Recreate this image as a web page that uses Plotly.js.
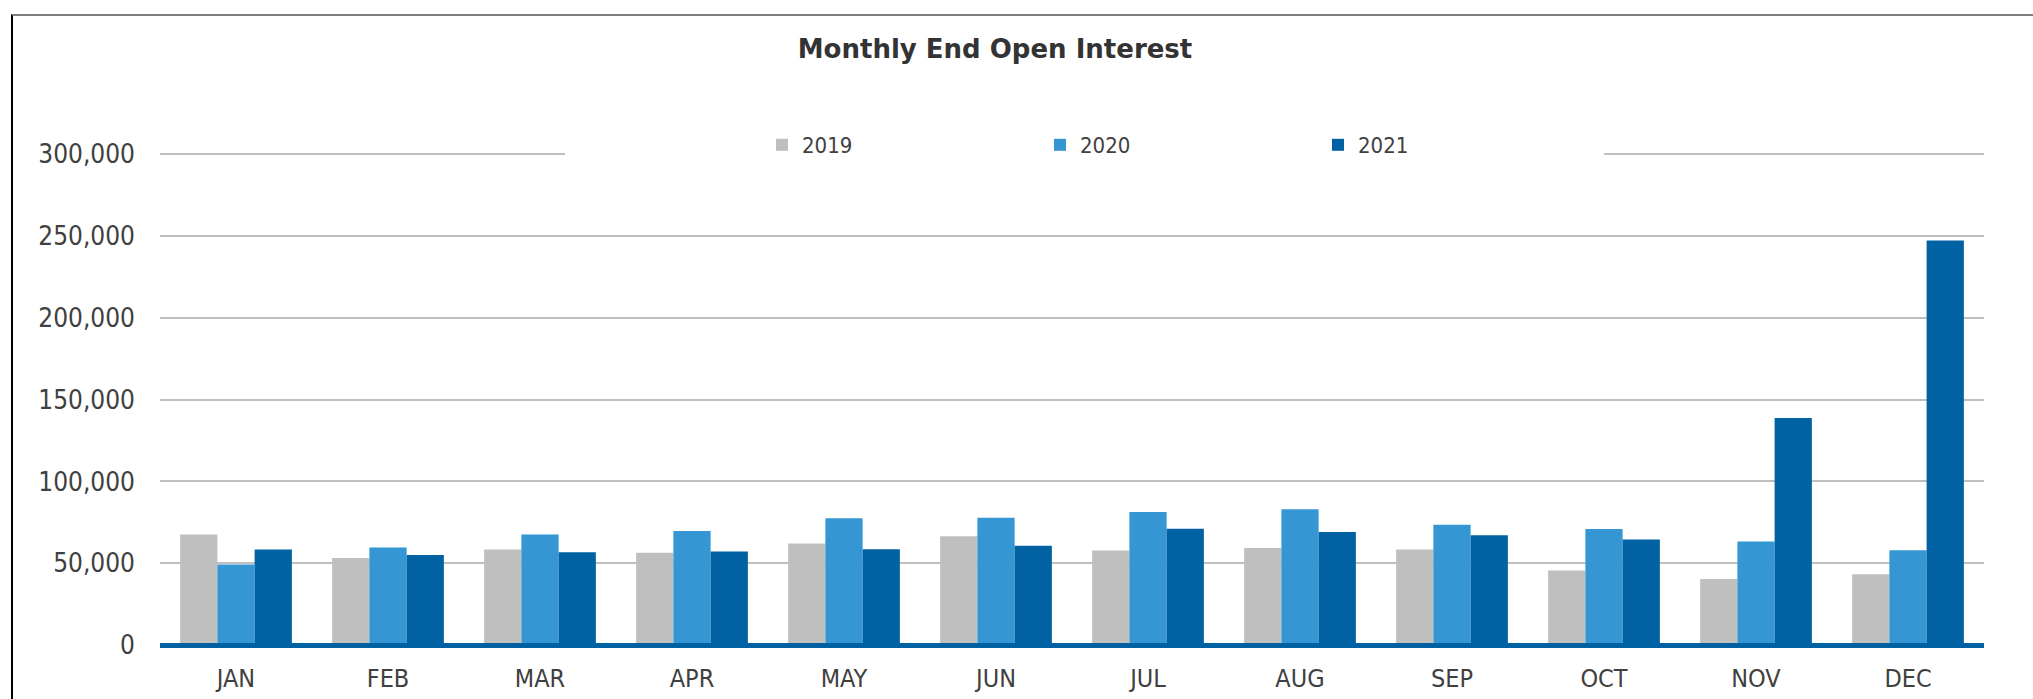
<!DOCTYPE html>
<html>
<head>
<meta charset="utf-8">
<script src="https://cdn.plot.ly/plotly-3.0.1.min.js"></script>
<style>
  html, body { margin: 0; padding: 0; background: #ffffff; overflow: hidden; }
  #chart { position: absolute; left: 0; top: 0; width: 2033px; height: 699px; }
  #frame { position: absolute; left: 11px; top: 14px; width: 2100px; height: 800px;
           border-top: 2px solid #7f7f7f; border-left: 2px solid #000000; pointer-events: none; }
</style>
</head>
<body>
<div id="chart"></div>
<div id="frame"></div>
<script>
const months = ["JAN","FEB","MAR","APR","MAY","JUN","JUL","AUG","SEP","OCT","NOV","DEC"];
const seriesNames = ["2019","2020","2021"];
const values2019 = [67600, 53300, 58400, 56400, 62100, 66600, 57800, 59400, 58500, 45600, 40500, 43400];
const values2020 = [49300, 59600, 67600, 69700, 77500, 77900, 81400, 83000, 73500, 70900, 63300, 58000];
const values2021 = [58400, 55100, 56800, 57200, 58600, 60700, 71100, 69100, 67200, 64600, 138700, 247100];
const yTickValues = [0, 50000, 100000, 150000, 200000, 250000, 300000];
const yTickLabels = ["0", "50,000", "100,000", "150,000", "200,000", "250,000", "300,000"];
const colors = ["#BFBFBF", "#3497D3", "#0061A3"];

const allValues = [values2019, values2020, values2021];
const traces = allValues.map((v, i) => ({
  type: "bar",
  name: seriesNames[i],
  x: months,
  y: v,
  marker: { color: colors[i], line: { width: 0 } },
  hoverinfo: "x+y+name"
}));

const W = 2033, H = 699;
const mL = 160, mR = 49, mT = 152, mB = 51;
const plotW = W - mL - mR;
const plotH = H - mT - mB;
// axis scale: 300,000 at 2px below plot top, zero 2.8px above plot bottom
const pxPerUnit = (plotH - 2 - 2.8) / 300000;
const yMax = 300000 + 2 / pxPerUnit;
const yMin = -2.8 / pxPerUnit;

const layout = {
  width: W, height: H,
  margin: { l: mL, r: mR, t: mT, b: mB, pad: 0, autoexpand: false },
  paper_bgcolor: "#ffffff",
  plot_bgcolor: "#ffffff",
  barmode: "group",
  bargap: 0.265,
  bargroupgap: 0,
  title: {
    text: "<b>Monthly End Open Interest</b>",
    x: 995 / W, xanchor: "center", xref: "container",
    y: 1 - 49 / H, yanchor: "middle", yref: "container",
    font: { family: "DejaVu Sans", size: 26, color: "#333333" },
    automargin: false
  },
  font: { family: "DejaVu Sans Condensed, DejaVu Sans", color: "#404040" },
  xaxis: {
    type: "category",
    showgrid: false,
    showline: false,
    ticks: "", tickfont: { family: "DejaVu Sans Condensed, DejaVu Sans", size: 25, color: "#404040" },
    ticklabelstandoff: 13,
    zeroline: false, fixedrange: true, automargin: false
  },
  yaxis: {
    range: [yMin, yMax],
    tickmode: "array", tickvals: yTickValues, ticktext: yTickLabels,
    showgrid: true, gridcolor: "#BFBFBF", gridwidth: 2,
    zeroline: true, zerolinecolor: "#0061A3", zerolinewidth: 5,
    zerolinelayer: "above traces",
    showline: false, ticks: "",
    tickfont: { family: "DejaVu Sans Condensed, DejaVu Sans", size: 26, color: "#404040" },
    ticklabelstandoff: 24,
    fixedrange: true, automargin: false
  },
  showlegend: true,
  legend: {
    orientation: "h",
    xref: "container", yref: "container",
    x: 762 / W, xanchor: "left",
    y: 1 - 145 / H, yanchor: "middle",
    bgcolor: "#ffffff", borderwidth: 0,
    entrywidth: 233, entrywidthmode: "pixels",
    font: { family: "DejaVu Sans Condensed, DejaVu Sans", size: 22, color: "#404040" },
    traceorder: "normal"
  },
  shapes: [{
    type: "rect", xref: "paper", yref: "paper", layer: "above",
    x0: (565 - mL) / plotW, x1: (1604 - mL) / plotW,
    y0: 0.98, y1: 1.02,
    fillcolor: "#ffffff", line: { width: 0 }
  }]
};

Plotly.newPlot("chart", traces, layout, { displayModeBar: false, staticPlot: true });
</script>
</body>
</html>
